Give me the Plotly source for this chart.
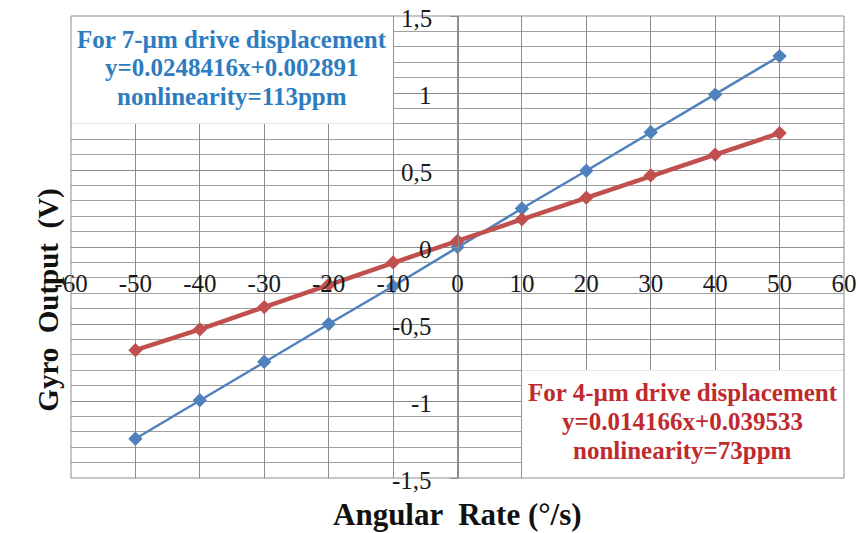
import plotly.graph_objects as go

# ---- data ----
rate = [-50, -40, -30, -20, -10, 0, 10, 20, 30, 40, 50]
out_7um = [-1.245, -0.995, -0.745, -0.50, -0.255, 0.0, 0.25, 0.495, 0.745, 0.99, 1.24]
out_4um = [-0.67, -0.535, -0.39, -0.245, -0.10, 0.04, 0.18, 0.32, 0.465, 0.60, 0.74]

x_ticks = [-60, -50, -40, -30, -20, -10, 0, 10, 20, 30, 40, 50, 60]
x_ticktext = ["-60", "-50", "-40", "-30", "-20", "-10", "0", "10", "20", "30", "40", "50", "60"]
y_ticks = [-1.5, -1, -0.5, 0, 0.5, 1, 1.5]
y_ticktext = ["-1,5", "-1", "-0,5", "0", "0,5", "1", "1,5"]

label_7um = ["For 7-µm drive displacement", "y=0.0248416x+0.002891", "nonlinearity=113ppm"]
label_4um = ["For 4-µm drive displacement", "y=0.014166x+0.039533", "nonlinearity=73ppm"]

FONT = "Liberation Serif, Times New Roman, serif"
GRID = "#8c8c8c"

fig = go.Figure()
fig.add_trace(go.Scatter(
    x=rate, y=out_7um, mode="lines+markers",
    line=dict(color="#4F81BD", width=2.5),
    marker=dict(symbol="diamond", size=11, color="#4F81BD"),
    showlegend=False))
fig.add_trace(go.Scatter(
    x=rate, y=out_4um, mode="lines+markers",
    line=dict(color="#C0504D", width=4.5),
    marker=dict(symbol="diamond", size=11, color="#C0504D"),
    showlegend=False))

fig.update_layout(
    width=858, height=533,
    margin=dict(l=71, r=14, t=16, b=55, autoexpand=False),
    paper_bgcolor="white", plot_bgcolor="white",
    font=dict(family=FONT, color="#1a1a1a"),
    xaxis=dict(
        range=[-60, 60], tickmode="array", tickvals=x_ticks, ticktext=x_ticktext,
        showgrid=True, gridcolor=GRID, gridwidth=1, zeroline=False,
        showline=False, ticks="", anchor="free", position=0.5, automargin=False,
        ticklabelstandoff=19, tickfont=dict(family=FONT, size=25, color="#1a1a1a"),
    ),
    yaxis=dict(
        range=[-1.5, 1.5], tickmode="array", tickvals=y_ticks, ticktext=y_ticktext,
        showgrid=True, gridcolor=GRID, gridwidth=1, zeroline=False,
        minor=dict(tickmode="linear", tick0=0, dtick=0.1, showgrid=True,
                   gridcolor="#a0a0a0", gridwidth=1),
        showline=True, linecolor=GRID, linewidth=1,
        ticks="outside", ticklen=8, tickcolor=GRID,
        anchor="free", position=0.5, automargin=False,
        showticklabels=False,
    ),
)

# y tick labels, placed left of the y axis (which sits at x=0)
for v, t in zip(y_ticks, y_ticktext):
    fig.add_annotation(x=0, y=v, xref="x", yref="y", text=t, showarrow=False,
                       xanchor="right", yanchor="middle", xshift=-24, yshift=-2,
                       font=dict(family=FONT, size=25, color="#1a1a1a"))

# white label boxes
fig.add_shape(type="rect", xref="x", yref="y", x0=-60, x1=-10, y0=0.8, y1=1.5,
              fillcolor="white", line=dict(width=0), layer="above")
fig.add_shape(type="rect", xref="x", yref="y", x0=10, x1=60, y0=-1.5, y1=-0.8,
              fillcolor="white", line=dict(width=0), layer="above")
# plot border
fig.add_shape(type="rect", xref="paper", yref="paper", x0=0, x1=1, y0=0, y1=1,
              line=dict(color=GRID, width=1), layer="above")

for txt, yy in zip(label_7um, [1.345, 1.163, 0.978]):
    fig.add_annotation(x=-35, y=yy, xref="x", yref="y", text="<b>" + txt + "</b>",
                       showarrow=False, yanchor="middle",
                       font=dict(family=FONT, size=25, color="#2E7CC0"))
for txt, yy in zip(label_4um, [-0.945, -1.13, -1.32]):
    fig.add_annotation(x=35, y=yy, xref="x", yref="y", text="<b>" + txt + "</b>",
                       showarrow=False, yanchor="middle",
                       font=dict(family=FONT, size=25, color="#BE2A2E"))

fig.add_annotation(text="<b>Angular  Rate (°/s)</b>", xref="paper", yref="paper",
                   x=0.5, y=-0.08, showarrow=False, yanchor="middle",
                   font=dict(family=FONT, size=31, color="#111"))
fig.add_annotation(text="<b>Gyro  Output  (V)</b>", xref="paper", yref="paper",
                   x=-0.053, y=0.385, showarrow=False, textangle=-90,
                   font=dict(family=FONT, size=29, color="#111"))

fig.write_html("out.html")
